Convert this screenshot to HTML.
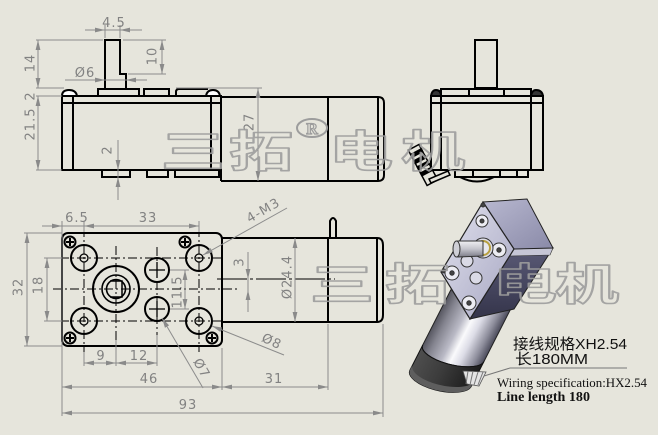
<!DOCTYPE html>
<html><head><meta charset="utf-8">
<style>html,body{margin:0;padding:0;background:#e6e5dc;overflow:hidden}svg{display:block}</style>
</head><body>
<svg width="658" height="435" viewBox="0 0 658 435" xmlns="http://www.w3.org/2000/svg">
<defs>
<marker id="ar" viewBox="0 0 10 6" refX="10" refY="3" markerWidth="10" markerHeight="6" markerUnits="userSpaceOnUse" orient="auto-start-reverse"><path d="M0,0.6 L10,3 L0,5.4 Z" fill="#8a8a8a"/></marker>
<linearGradient id="cyl" x1="0" y1="0" x2="1" y2="0">
<stop offset="0" stop-color="#55555f"/><stop offset="0.15" stop-color="#84848f"/><stop offset="0.38" stop-color="#babac6"/><stop offset="0.52" stop-color="#fafafc"/><stop offset="0.66" stop-color="#dcdce6"/><stop offset="0.86" stop-color="#8e8e9c"/><stop offset="1" stop-color="#4a4a5a"/>
</linearGradient>
<linearGradient id="cap" x1="0" y1="0" x2="1" y2="0">
<stop offset="0" stop-color="#4e4e4e"/><stop offset="0.45" stop-color="#3c3c3c"/><stop offset="0.75" stop-color="#2a2a2a"/><stop offset="1" stop-color="#1c1c1c"/>
</linearGradient>
<linearGradient id="ff" x1="0" y1="0" x2="1" y2="1">
<stop offset="0" stop-color="#e2e2ee"/><stop offset="1" stop-color="#a6a6c2"/>
</linearGradient>
<linearGradient id="tf" x1="0" y1="0" x2="1" y2="1">
<stop offset="0" stop-color="#b8b8d0"/><stop offset="1" stop-color="#8a8aa8"/>
</linearGradient>
<linearGradient id="sf" x1="0" y1="0" x2="0" y2="1">
<stop offset="0" stop-color="#5a5a76"/><stop offset="1" stop-color="#34344a"/>
</linearGradient>
<linearGradient id="sh" x1="0" y1="0" x2="0" y2="1">
<stop offset="0" stop-color="#f0f0f4"/><stop offset="0.5" stop-color="#c4c4cc"/><stop offset="1" stop-color="#7c7c88"/>
</linearGradient>
</defs>
<rect width="658" height="435" fill="#e6e5dc"/>

<!-- ============ TOP-LEFT VIEW ============ -->
<g fill="none" stroke="#000" stroke-width="2">
  <path d="M105,88 V40 H120 V74 H126 V88"/>
  <rect x="98" y="89" width="41" height="7"/>
  <rect x="144" y="89" width="25" height="7"/>
  <path d="M176,96 V92 Q176,89 179,89 H208"/>
  <path d="M62,96 Q62,90 69,90 Q76,90 77,96" fill="#fff"/>
  <path d="M206,96 Q207,90 213,90 Q219,90 220,96" fill="#fff"/>
  <rect x="62" y="96" width="159" height="74"/>
  <line x1="62" y1="103" x2="221" y2="103"/>
  <line x1="73" y1="96" x2="73" y2="170"/>
  <line x1="211" y1="96" x2="211" y2="170"/>
  <rect x="102" y="170" width="28" height="7"/>
  <rect x="147" y="170" width="21" height="7"/>
  <rect x="175" y="170" width="44" height="7"/>
  <path d="M221,97 H378 M221,181 H378 M221,96 V181 M378,97 V181"/>
  <path d="M378,97 Q384,97 384,103 V175 Q384,181 378,181"/>
  <line x1="328" y1="97" x2="328" y2="181"/>
</g>

<!-- ============ TOP-RIGHT SIDE VIEW ============ -->
<g fill="none" stroke="#000" stroke-width="2">
  <rect x="475" y="40" width="22" height="48"/>
  <rect x="441" y="89" width="90" height="7"/>
  <line x1="469" y1="89" x2="469" y2="96"/>
  <line x1="504" y1="89" x2="504" y2="96"/>
  <path d="M431,96 Q432,90 436,90 Q441,90 441,96" fill="#333"/>
  <path d="M531,96 Q532,90 536,90 Q542,90 543,96" fill="#333"/>
  <rect x="431" y="96" width="112" height="74"/>
  <line x1="431" y1="103" x2="543" y2="103"/>
  <line x1="441" y1="96" x2="441" y2="170"/>
  <line x1="531" y1="96" x2="531" y2="170"/>
  <rect x="455" y="170" width="73" height="7"/>
  <line x1="473" y1="170" x2="473" y2="177"/>
  <line x1="500" y1="170" x2="500" y2="177"/>
  <line x1="517" y1="170" x2="517" y2="177"/>
  <path d="M460,177 Q477,186 494,177"/>
</g>
<g transform="translate(423,165) rotate(-28)" stroke="#000" stroke-width="1.5">
  <rect x="-6" y="-20" width="12" height="40" fill="#e6e5dc"/>
  <rect x="-6" y="-15" width="12" height="3" fill="#000"/>
  <rect x="-6" y="-8" width="12" height="3" fill="#000"/>
  <rect x="-6" y="-1" width="12" height="3" fill="#000"/>
  <rect x="-6" y="6" width="12" height="3" fill="#000"/>
</g>
<polygon points="431,183 450,175 448,171 429,179" fill="#e6e5dc" stroke="#000" stroke-width="1.5"/>

<!-- ============ FRONT VIEW ============ -->
<g fill="none" stroke="#000" stroke-width="2">
  <rect x="62" y="233" width="160" height="113" rx="6"/>
  <path d="M222,238 H377 M222,322 H377 M377,238 V322"/>
  <path d="M377,238 Q383,238 383,245 V315 Q383,322 377,322"/>
  <line x1="328" y1="238" x2="328" y2="322"/>
  <path d="M330,238 V221 Q333,215 336,221 V238"/>
  <circle cx="70" cy="242" r="5.5"/>
  <circle cx="185" cy="242" r="5.5"/>
  <circle cx="70" cy="338" r="5.5"/>
  <circle cx="212" cy="338" r="5.5"/>
  <circle cx="84" cy="258" r="13"/>
  <circle cx="199" cy="258" r="13"/>
  <circle cx="84" cy="321" r="13"/>
  <circle cx="199" cy="321" r="13"/>
  <circle cx="116" cy="289" r="23"/>
  <circle cx="116" cy="289" r="14" stroke-width="1.6"/>
  <circle cx="116" cy="289" r="9.5" stroke-width="1.6"/>
  <path d="M110,281 H122 V297 H110" stroke-width="1.5"/>
  <circle cx="157" cy="270" r="12"/>
  <circle cx="157" cy="309" r="12"/>
</g>
<g stroke="#000" stroke-width="2">
  <path d="M66,242 H74 M70,238 V246 M181,242 H189 M185,238 V246 M66,338 H74 M70,334 V342 M208,338 H216 M212,334 V342"/>
</g>
<g fill="none" stroke="#000" stroke-width="1.3">
  <circle cx="84" cy="258" r="4"/><circle cx="199" cy="258" r="4"/>
  <circle cx="84" cy="321" r="4"/><circle cx="199" cy="321" r="4"/>
  <path d="M149,270 H165 M157,262 V278 M149,309 H165 M157,301 V317"/>
</g>
<g stroke="#000" stroke-width="1" stroke-dasharray="9,3,2,3" fill="none">
  <line x1="53" y1="289" x2="238" y2="289"/>
  <line x1="60" y1="258" x2="224" y2="258"/>
  <line x1="60" y1="321" x2="224" y2="321"/>
  <line x1="84" y1="228" x2="84" y2="352"/>
  <line x1="199" y1="228" x2="199" y2="352"/>
  <line x1="116" y1="246" x2="116" y2="340"/>
  <line x1="157" y1="247" x2="157" y2="335"/>
  <line x1="217" y1="279" x2="335" y2="279" stroke-dasharray="30,3,3,3"/>
</g>

<!-- ============ DIMENSION LINES ============ -->
<g stroke="#8c8c8c" stroke-width="1" fill="none">
  <path d="M105,25 V38 M120,25 V38 M85,30 H142"/>
  <line x1="93" y1="30" x2="105" y2="30" marker-end="url(#ar)"/>
  <line x1="132" y1="30" x2="120" y2="30" marker-end="url(#ar)"/>
  <path d="M123,40 H166 M128,74 H166"/>
  <line x1="162" y1="40" x2="162" y2="74" marker-start="url(#ar)" marker-end="url(#ar)"/>
  <path d="M36,40 H103 M36,88 H64 M176,88 H262 M36,96 H62 M36,170 H62"/>
  <line x1="38" y1="40" x2="38" y2="88" marker-start="url(#ar)" marker-end="url(#ar)"/>
  <line x1="38" y1="96" x2="38" y2="170" marker-start="url(#ar)" marker-end="url(#ar)"/>
  <path d="M65,80 H147"/>
  <line x1="93" y1="80" x2="105" y2="80" marker-end="url(#ar)"/>
  <line x1="138" y1="80" x2="126" y2="80" marker-end="url(#ar)"/>
  <line x1="258" y1="88" x2="258" y2="181" marker-start="url(#ar)" marker-end="url(#ar)"/>
  <path d="M118,140 V200"/>
  <line x1="118" y1="158" x2="118" y2="170" marker-end="url(#ar)"/>
  <line x1="118" y1="189" x2="118" y2="177" marker-end="url(#ar)"/>

  <path d="M62,221 V416 M84,221 V232 M199,221 V232 M42,226 H199"/>
  <line x1="50" y1="226" x2="62" y2="226" marker-end="url(#ar)"/>
  <line x1="96" y1="226" x2="84" y2="226" marker-end="url(#ar)"/>
  <line x1="187" y1="226" x2="199" y2="226" marker-end="url(#ar)"/>
  <path d="M24,233 H62 M24,346 H62"/>
  <line x1="27" y1="233" x2="27" y2="346" marker-start="url(#ar)" marker-end="url(#ar)"/>
  <path d="M44,258 H62 M44,321 H62"/>
  <line x1="47" y1="258" x2="47" y2="321" marker-start="url(#ar)" marker-end="url(#ar)"/>
  <path d="M84,352 V366 M116,340 V366 M157,335 V366"/>
  <line x1="84" y1="363" x2="157" y2="363" marker-start="url(#ar)" marker-end="url(#ar)"/>
  <line x1="105" y1="363" x2="116" y2="363" marker-end="url(#ar)"/>
  <line x1="127" y1="363" x2="116" y2="363" marker-end="url(#ar)"/>
  <path d="M222,348 V390 M328,324 V390"/>
  <line x1="62" y1="387" x2="222" y2="387" marker-start="url(#ar)" marker-end="url(#ar)"/>
  <line x1="222" y1="387" x2="328" y2="387" marker-start="url(#ar)" marker-end="url(#ar)"/>
  <path d="M383,324 V417"/>
  <line x1="62" y1="413" x2="383" y2="413" marker-start="url(#ar)" marker-end="url(#ar)"/>
  <path d="M170,270 H189 M170,309 H189"/>
  <line x1="185" y1="270" x2="185" y2="309" marker-start="url(#ar)" marker-end="url(#ar)"/>
  <path d="M248,252 V312"/>
  <line x1="248" y1="267" x2="248" y2="279" marker-end="url(#ar)"/>
  <line x1="248" y1="302" x2="248" y2="290" marker-end="url(#ar)"/>
  <line x1="295" y1="238" x2="295" y2="322" marker-start="url(#ar)" marker-end="url(#ar)"/>
  <line x1="203" y1="255" x2="287" y2="208" marker-start="url(#ar)"/>
  <line x1="212" y1="326" x2="284" y2="355" marker-start="url(#ar)"/>
  <line x1="162" y1="318" x2="203" y2="388" marker-start="url(#ar)"/>
</g>

<!-- ============ DIMENSION TEXT ============ -->
<g font-family="'DejaVu Sans','Liberation Sans',sans-serif" font-size="13" fill="#828282" text-anchor="middle" letter-spacing="1">
  <text x="114" y="27">4.5</text>
  <text x="85" y="77">Ø6</text>
  <text transform="translate(152,56) rotate(-90)" dy="0.36em">10</text>
  <text transform="translate(30,63) rotate(-90)" dy="0.36em">14</text>
  <text transform="translate(30,96) rotate(-90)" dy="0.36em">2</text>
  <text transform="translate(30,124) rotate(-90)" dy="0.36em">21.5</text>
  <text transform="translate(249,122) rotate(-90)" dy="0.36em">27</text>
  <text transform="translate(107,150) rotate(-90)" dy="0.36em">2</text>

  <text x="77" y="222">6.5</text>
  <text x="148" y="222">33</text>
  <text transform="translate(18,287) rotate(-90)" dy="0.36em">32</text>
  <text transform="translate(38,285) rotate(-90)" dy="0.36em">18</text>
  <text x="101" y="360">9</text>
  <text x="139" y="360">12</text>
  <text x="149" y="383">46</text>
  <text x="274" y="383">31</text>
  <text x="188" y="409">93</text>
  <text transform="translate(177,292) rotate(-90)" dy="0.36em">11.5</text>
  <text transform="translate(239,262) rotate(-90)" dy="0.36em">3</text>
  <text transform="translate(287,277) rotate(-90)" dy="0.36em">Ø24.4</text>
  <text transform="translate(263,210) rotate(-30)" dy="0.36em">4-M3</text>
  <text transform="translate(272,341) rotate(25)" dy="0.36em">Ø8</text>
  <text transform="translate(202,368) rotate(60)" dy="0.36em">Ø7</text>
</g>

<!-- ============ 3D RENDER ============ -->
<g transform="translate(481.5,298) rotate(27) skewY(-12)">
  <path d="M-31,0 V62 A31,12 0 0 0 31,62 V0 Z" fill="url(#cyl)" stroke="#222" stroke-width="1"/>
  <path d="M-31,62 A31,12 0 0 0 31,62 V90 A31,13 0 0 1 -31,90 Z" fill="url(#cap)" stroke="#111" stroke-width="1"/>
  <path d="M-31,84 A31,13 0 0 0 31,84 V90 A31,13 0 0 1 -31,90 Z" fill="#5e5e5e" stroke="none"/>
</g>
<polygon points="463,371 486,372 479,386 467,384" fill="#e4e4e4" stroke="#555" stroke-width="0.8"/>
<g stroke="#777" stroke-width="1">
  <line x1="468" y1="371" x2="466" y2="384"/>
  <line x1="473" y1="371" x2="470" y2="385"/>
  <line x1="478" y1="372" x2="474" y2="385"/>
  <line x1="483" y1="372" x2="478" y2="385"/>
</g>
<polygon points="514,249 553,248 514,309 470,319" fill="url(#sf)" stroke="#222" stroke-width="1"/>
<polygon points="514,249 553,248 550,255 510,256" fill="#c6c6d6" stroke="#333" stroke-width="0.6"/>
<polygon points="483,202 527,199 553,248 514,249" fill="url(#tf)" stroke="#222" stroke-width="1"/>
<polygon points="483,202 514,249 470,319 441,272" fill="url(#ff)" stroke="#222" stroke-width="1.2"/>
<g stroke="#333" stroke-width="1">
  <circle cx="483" cy="205" r="2" fill="#444"/>
  <circle cx="444" cy="271" r="2" fill="#444"/>
  <circle cx="482" cy="221" r="6" fill="#ececf2"/><circle cx="482" cy="221" r="2" fill="#444"/>
  <circle cx="499" cy="250" r="7" fill="#ececf2"/><circle cx="499" cy="250" r="2.2" fill="#444"/>
  <circle cx="452" cy="273" r="7" fill="#ececf2"/><circle cx="452" cy="273" r="2.2" fill="#444"/>
  <circle cx="476" cy="278" r="6" fill="#dadae6"/>
  <circle cx="467" cy="261" r="6" fill="#dadae6"/>
  <circle cx="469" cy="303" r="7" fill="#ececf2"/><circle cx="469" cy="303" r="2.2" fill="#444"/>
  <circle cx="483" cy="248" r="10" fill="#dcdce6"/>
  <circle cx="483" cy="248" r="7" fill="#e8e8ee" stroke="#b8a040" stroke-width="2"/>
  <path d="M457,241 L483,241 L483,256 L458,257 Z" fill="url(#sh)"/>
  <ellipse cx="456.5" cy="249" rx="3.5" ry="8" fill="#cfcfd6"/>
</g>
<polyline points="484,376 510,368 627,368" fill="none" stroke="#777" stroke-width="1"/>
<text x="513" y="349" font-family="'Liberation Sans','Noto Sans CJK SC',sans-serif" font-size="15" fill="#111" textLength="114" lengthAdjust="spacingAndGlyphs">接线规格XH2.54</text>
<text x="515" y="364" font-family="'Liberation Sans','Noto Sans CJK SC',sans-serif" font-size="15" fill="#111" textLength="73" lengthAdjust="spacingAndGlyphs">长180MM</text>
<text x="497" y="387" font-family="'Liberation Serif',serif" font-size="12.5" fill="#111" textLength="150" lengthAdjust="spacingAndGlyphs">Wiring specification:HX2.54</text>
<text x="497" y="401" font-family="'Liberation Serif',serif" font-size="14" font-weight="bold" fill="#111" textLength="93" lengthAdjust="spacingAndGlyphs">Line length 180</text>

<!-- ============ WATERMARKS ============ -->
<g fill="none" stroke="#9d9d9d" stroke-width="2" stroke-linejoin="round" font-family="'Noto Sans CJK SC','WenQuanYi Zen Hei',sans-serif" font-weight="700" font-size="64" text-anchor="middle" opacity="0.9">
  <text transform="translate(193,167) scale(1,0.68)" vector-effect="non-scaling-stroke">三</text>
  <text transform="translate(261,167) scale(1,0.68)" vector-effect="non-scaling-stroke">拓</text>
  <text transform="translate(361,167) scale(1,0.68)" vector-effect="non-scaling-stroke">电</text>
  <text transform="translate(433,167) scale(1,0.68)" vector-effect="non-scaling-stroke">机</text>
  <text transform="translate(342,300) scale(1,0.68)" vector-effect="non-scaling-stroke">三</text>
  <text transform="translate(417,300) scale(1,0.68)" vector-effect="non-scaling-stroke">拓</text>
  <text transform="translate(525,300) scale(1,0.68)" vector-effect="non-scaling-stroke">电</text>
  <text transform="translate(587,300) scale(1,0.68)" vector-effect="non-scaling-stroke">机</text>
</g>
<ellipse cx="312" cy="128" rx="15" ry="9" fill="none" stroke="#9d9d9d" stroke-width="2"/>
<text x="312" y="134" text-anchor="middle" font-family="'Liberation Serif',serif" font-weight="bold" font-size="16" fill="none" stroke="#9d9d9d" stroke-width="1.2">R</text>
</svg>
</body></html>
